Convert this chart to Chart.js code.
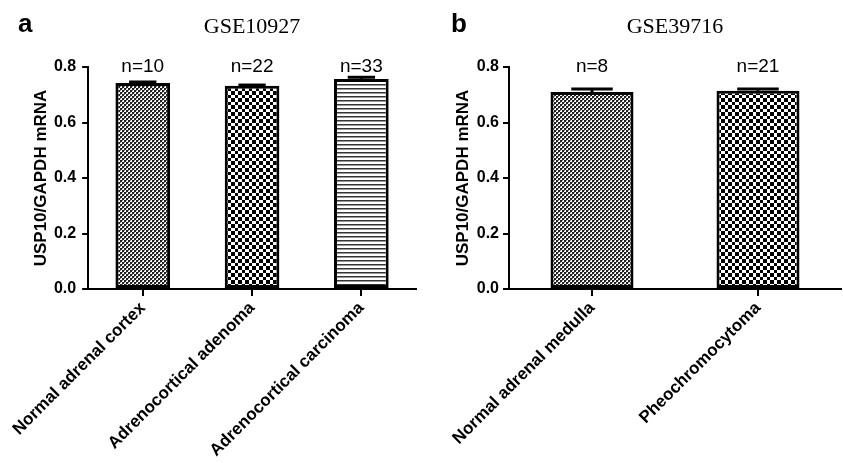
<!DOCTYPE html>
<html>
<head>
<meta charset="utf-8">
<script src="https://cdn.jsdelivr.net/npm/chart.js@4.4.1/dist/chart.umd.min.js"></script>
<style>
    html, body { margin: 0; padding: 0; background: #fff; }
    #wrap { position: relative; width: 843px; height: 463px; overflow: hidden; }
    canvas { position: absolute; top: 0; }
</style>
</head>
<body>
<div id="wrap">
    <canvas id="chartA" width="420" height="463" style="left:0;width:420px;height:463px"></canvas>
    <canvas id="chartB" width="423" height="463" style="left:420px;width:423px;height:463px"></canvas>
</div>
<script>
// panel a - GSE10927
var labelsA = ["Normal adrenal cortex", "Adrenocortical adenoma", "Adrenocortical carcinoma"];
var meansA = [0.742, 0.732, 0.757];
var errA = [0.004, 0.003, 0.006];
var countsA = ["n=10", "n=22", "n=33"];

// panel b - GSE39716
var labelsB = ["Normal adrenal medulla", "Pheochromocytoma"];
var meansB = [0.710, 0.714];
var errB = [0.011, 0.007];
var countsB = ["n=8", "n=21"];

var yTicks = [0.0, 0.2, 0.4, 0.6, 0.8];

var sans = "'Liberation Sans', Arial, sans-serif";
var serif = "'Liberation Serif', 'Times New Roman', serif";

function makePattern(kind) {
    var c = document.createElement('canvas');
    var g = c.getContext('2d');
    if (kind == 'fine') {
        c.width = 4; c.height = 4;
        g.fillStyle = '#fff'; g.fillRect(0, 0, 4, 4);
        g.fillStyle = '#222';
        g.fillRect(0, 0, 2, 2);
        g.fillRect(2, 2, 2, 2);
        g.fillStyle = '#888';
        g.fillRect(2, 0, 1, 1);
        g.fillRect(0, 2, 1, 1);
    } else if (kind == 'coarse') {
        c.width = 7; c.height = 7;
        g.fillStyle = '#fff'; g.fillRect(0, 0, 7, 7);
        g.fillStyle = '#000';
        g.fillRect(0, 0, 4, 4);
        g.fillRect(4, 4, 3, 3);
    } else {
        c.width = 4; c.height = 4;
        g.fillStyle = '#fff'; g.fillRect(0, 0, 4, 4);
        g.fillStyle = '#333'; g.fillRect(0, 0, 4, 1);
        g.fillStyle = '#999'; g.fillRect(0, 1, 4, 1);
    }
    return g.createPattern(c, 'repeat');
}

var extrasPlugin = {
    id: 'extras',
    afterDatasetsDraw: function (chart, args, opts) {
        var ctx = chart.ctx;
        var meta = chart.getDatasetMeta(0);
        var y = chart.scales.y;
        var ds = chart.data.datasets[0];
        ctx.save();
        ctx.strokeStyle = '#000';
        for (var i = 0; i < meta.data.length; i++) {
            var bar = meta.data[i];
            var v = ds.data[i];
            var top = y.getPixelForValue(v + opts.errors[i]);
            var base = y.getPixelForValue(v);
            ctx.lineWidth = 3;
            ctx.beginPath();
            ctx.moveTo(bar.x, base);
            ctx.lineTo(bar.x, top);
            ctx.stroke();
            ctx.beginPath();
            ctx.moveTo(bar.x - bar.width / 4, top);
            ctx.lineTo(bar.x + bar.width / 4, top);
            ctx.stroke();
        }
        // n= labels
        ctx.fillStyle = '#000';
        ctx.font = "19px " + sans;
        ctx.textAlign = 'center';
        ctx.textBaseline = 'alphabetic';
        for (var i = 0; i < meta.data.length; i++) {
            ctx.fillText(opts.counts[i], meta.data[i].x, 72);
        }
        // dataset title
        var area = chart.chartArea;
        ctx.font = "22px " + serif;
        ctx.fillText(opts.title, (area.left + area.right) / 2, 33);
        // panel letter
        ctx.font = "bold 26px " + sans;
        ctx.textAlign = 'left';
        ctx.fillText(opts.letter, opts.letterX, 32);
        ctx.restore();
    }
};

function buildChart(id, labels, means, errs, counts, fills, title, letter, letterX, yWidth, rightPad, titlePad, tickPad) {
    return new Chart(id, {
        type: "bar",
        data: {
            labels: labels,
            datasets: [{
                data: means,
                backgroundColor: fills,
                borderColor: "#000",
                borderWidth: 3,
                borderSkipped: false,
                barPercentage: 0.5,
                categoryPercentage: 1.0
            }]
        },
        options: {
            responsive: false,
            animation: false,
            devicePixelRatio: 1,
            layout: {
                padding: { top: 67, right: rightPad, left: 0, bottom: 0 }
            },
            plugins: {
                legend: { display: false },
                tooltip: { enabled: false },
                extras: { errors: errs, counts: counts, title: title, letter: letter, letterX: letterX }
            },
            scales: {
                y: {
                    min: 0,
                    max: 0.8,
                    afterBuildTicks: function (scale) {
                        scale.ticks = yTicks.map(function (v) { return { value: v }; });
                    },
                    afterFit: function (scale) { scale.width = yWidth; },
                    ticks: {
                        color: '#000',
                        padding: tickPad,
                        font: { family: sans, size: 16, weight: 'bold' },
                        callback: function (v) { return Number(v).toFixed(1); }
                    },
                    grid: {
                        drawOnChartArea: false,
                        color: '#000',
                        lineWidth: 2,
                        tickLength: 6
                    },
                    border: { color: '#000', width: 2 },
                    title: {
                        display: true,
                        text: 'USP10/GAPDH mRNA',
                        color: '#000',
                        padding: { top: titlePad, bottom: 0 },
                        font: { family: sans, size: 17, weight: 'bold' }
                    }
                },
                x: {
                    afterFit: function (scale) { scale.height = 174; },
                    ticks: {
                        color: '#000',
                        minRotation: 45,
                        maxRotation: 45,
                        padding: 2,
                        font: { family: sans, size: 17, weight: 'bold' }
                    },
                    grid: {
                        offset: false,
                        drawOnChartArea: false,
                        color: '#000',
                        lineWidth: 2,
                        tickLength: 7
                    },
                    border: { color: '#000', width: 2 }
                }
            }
        },
        plugins: [extrasPlugin]
    });
}

var chartA = buildChart("chartA", labelsA, meansA, errA, countsA,
    [makePattern('fine'), makePattern('coarse'), makePattern('lines')],
    "GSE10927", "a", 18, 83, 4, 26, 6);

var chartB = buildChart("chartB", labelsB, meansB, errB, countsB,
    [makePattern('fine'), makePattern('coarse')],
    "GSE39716", "b", 31, 89, 2, 33, 4);
</script>
</body>
</html>
